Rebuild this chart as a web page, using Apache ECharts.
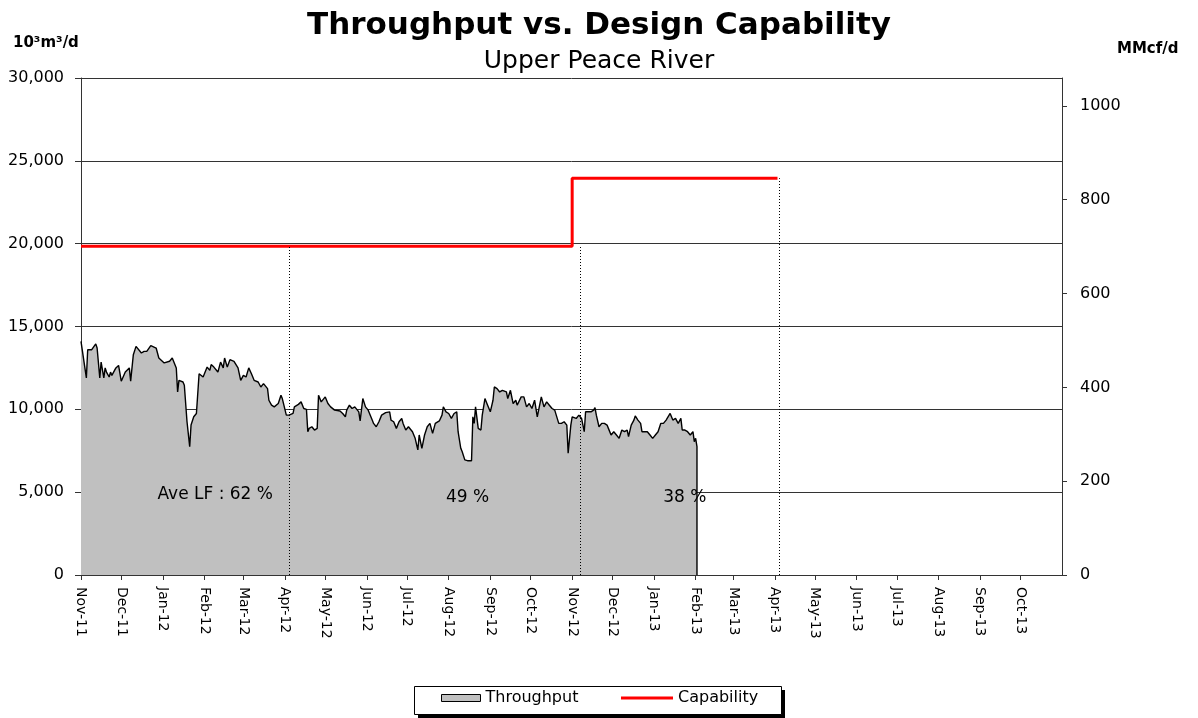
<!DOCTYPE html>
<html>
<head>
<meta charset="utf-8">
<title>Throughput vs. Design Capability</title>
<script src="https://cdn.jsdelivr.net/npm/echarts@6/dist/echarts.min.js"></script>
<style>
  html, body { margin: 0; padding: 0; background: #fff; }
  #chart { width: 1198px; height: 718px; }
</style>
</head>
<body>
<div id="chart"></div>
<script>
// throughput: [days since 1 Nov 2011, 10^3 m3/d]
const throughput = [
  [0, 14100], [4, 11900], [5, 13600], [8, 13600], [11, 13950], [12, 13700], [14, 11900], [15, 12850],
  [17, 11900], [18, 12500], [19, 12250], [21, 11950], [22, 12250], [23, 12050], [26, 12500], [28, 12650],
  [30, 11700], [33, 12250], [36, 12500], [37, 11700], [39, 13300], [41, 13800], [45, 13400], [47, 13500],
  [49, 13500], [52, 13850], [56, 13700], [58, 13100], [62, 12800], [66, 12900], [68, 13100], [71, 12500],
  [72, 11050], [73, 11750], [76, 11650], [77, 11450], [78, 11350], [79, 9250], [81, 7750], [82, 9050],
  [84, 9550], [86, 9750], [88, 12150], [91, 11950], [94, 12550], [96, 12350], [97, 12700], [99, 12550],
  [102, 12250], [104, 12850], [106, 12500], [107, 13100], [109, 12550], [111, 13000], [114, 12900], [117, 12500],
  [119, 11750], [121, 12050], [123, 11950], [125, 12500], [127, 12150], [129, 11750], [132, 11650], [134, 11350],
  [136, 11550], [139, 11250], [140, 10550], [142, 10250], [144, 10150], [147, 10350], [149, 10850], [150, 10650],
  [153, 9650], [155, 9650], [158, 9750], [159, 10150], [162, 10300], [164, 10450], [166, 10050], [168, 10000],
  [169, 8650], [170, 8850], [172, 8950], [174, 8750], [176, 8850], [177, 10850], [178, 10750], [179, 10450],
  [182, 10750], [184, 10350], [186, 10150], [187, 10250], [189, 9950], [190, 9850], [193, 9900], [195, 9750],
  [197, 9550], [198, 9950], [200, 10250], [202, 10050], [204, 10150], [207, 9850], [208, 9300], [210, 10650],
  [212, 10150], [214, 9950], [217, 9350], [218, 9150], [220, 8950], [222, 9250], [224, 9650], [227, 9800],
  [230, 9850], [231, 9350], [233, 9250], [235, 8850], [237, 9250], [239, 9450], [240, 9150], [242, 8750],
  [244, 8950], [247, 8650], [249, 8250], [251, 7550], [252, 8450], [254, 7650], [256, 8450], [258, 8950],
  [260, 9150], [262, 8550], [264, 9150], [265, 9050], [267, 9300], [269, 9650], [270, 10150], [272, 9850],
  [274, 9750], [276, 9450], [278, 9750], [280, 9850], [281, 8650], [283, 7650], [284, 7450], [286, 6950],
  [288, 6900], [291, 6900], [292, 9550], [293, 9150], [294, 10150], [296, 8850], [298, 8750], [299, 9650],
  [301, 10650], [303, 10250], [305, 9850], [307, 10550], [308, 11350], [310, 11250], [312, 11050], [314, 11150],
  [317, 11050], [318, 10650], [320, 11150], [322, 10350], [324, 10550], [325, 10250], [328, 10750], [330, 10750],
  [332, 10150], [334, 10350], [336, 10050], [338, 10550], [340, 9550], [341, 9650], [343, 10750], [345, 10150],
  [347, 10450], [349, 10250], [351, 10050], [353, 9950], [354, 9850], [356, 9150], [358, 9150], [360, 9250],
  [362, 9050], [363, 7350], [365, 9050], [366, 9550], [369, 9450], [371, 9650], [373, 9450], [375, 8650],
  [376, 9850], [377, 9850], [380, 9850], [382, 9950], [383, 10100], [384, 9650], [386, 8950], [388, 9150],
  [390, 9150], [392, 9050], [393, 8850], [395, 8450], [397, 8650], [399, 8450], [401, 8250], [403, 8750],
  [405, 8650], [407, 8750], [408, 8350], [410, 9050], [412, 9350], [413, 9600], [415, 9350], [417, 9150],
  [418, 8650], [420, 8650], [422, 8650], [424, 8450], [426, 8250], [428, 8450], [430, 8650], [432, 9150],
  [434, 9150], [436, 9350], [437, 9350], [439, 9750], [441, 9350], [443, 9450], [445, 9150], [447, 9450],
  [448, 8750], [450, 8750], [452, 8650], [454, 8450], [456, 8650], [457, 8050], [458, 8250], [459, 7750],
  [459, 0]
];

// design capability (step), [days since 1 Nov 2011, 10^3 m3/d]
const capability = [[0, 19850], [366, 19850], [366, 23950], [519, 23950]];

// dotted period markers and the average load factor of each period
const periodDay = [155, 372, 520];
const periodTop = [19850, 19850, 23950];
const loadFactor = ['Ave LF : 62 %', '49 %', '38 %'];

const monthLabels = [
  'Nov-11', 'Dec-11', 'Jan-12', 'Feb-12', 'Mar-12', 'Apr-12', 'May-12', 'Jun-12',
  'Jul-12', 'Aug-12', 'Sep-12', 'Oct-12', 'Nov-12', 'Dec-12', 'Jan-13', 'Feb-13',
  'Mar-13', 'Apr-13', 'May-13', 'Jun-13', 'Jul-13', 'Aug-13', 'Sep-13', 'Oct-13'
];
const leftTicks = [0, 5000, 10000, 15000, 20000, 25000, 30000];
const rightTicks = [0, 200, 400, 600, 800, 1000];

const M3_TO_MMCF = 0.0353147; // 10^3 m3/d -> MMcf/d
const FONT = 'DejaVu Sans';
const DAY = 86400000;
const start = Date.UTC(2011, 10, 1);
const monthDay = monthLabels.map((_, i) => (Date.UTC(2011, 10 + i, 1) - start) / DAY);
const axisEnd = (Date.UTC(2013, 10, 1) - start) / DAY;

const chart = echarts.init(document.getElementById('chart'));

const option = {
  animation: false,
  backgroundColor: '#fff',
  title: [
    {
      text: 'Throughput vs. Design Capability',
      left: 594, top: 5, textAlign: 'center',
      textStyle: { fontFamily: FONT, fontSize: 31, fontWeight: 'bold', color: '#000' }
    },
    {
      text: 'Upper Peace River',
      left: 594, top: 44, textAlign: 'center',
      textStyle: { fontFamily: FONT, fontSize: 25, fontWeight: 'normal', color: '#000' }
    }
  ],
  grid: { left: 81, right: 136, top: 78, bottom: 143, containLabel: false },
  legend: [
    {
      data: [{ name: 'Throughput', icon: 'rect', itemStyle: { color: '#c0c0c0', borderColor: '#000', borderWidth: 1 } }],
      left: 441, top: 690, padding: 0, itemWidth: 39, itemHeight: 7,
      selectedMode: false, z: 20,
      textStyle: { fontFamily: FONT, fontSize: 16, color: '#000' }
    },
    {
      data: [{ name: 'Capability', icon: 'rect', itemStyle: { color: '#ff0000' } }],
      left: 621, top: 690, padding: 0, itemWidth: 52, itemHeight: 3,
      selectedMode: false, z: 20,
      textStyle: { fontFamily: FONT, fontSize: 16, color: '#000' }
    }
  ],
  graphic: [
    { type: 'rect', z: 1, shape: { x: 418, y: 690, width: 367, height: 28 }, style: { fill: '#000' } },
    { type: 'rect', z: 2, shape: { x: 414.5, y: 686.5, width: 367, height: 28 }, style: { fill: '#fff', stroke: '#000', lineWidth: 1 } },
    {
      type: 'text', z: 3, left: 13, top: 36,
      style: { text: '10³m³/d', font: 'bold 15px "DejaVu Sans"', fill: '#000' }
    },
    {
      type: 'text', z: 3, left: 1117, top: 42,
      style: { text: 'MMcf/d', font: 'bold 15px "DejaVu Sans"', fill: '#000' }
    }
  ],
  xAxis: {
    type: 'value',
    min: 0,
    max: axisEnd,
    axisLine: { show: true, lineStyle: { color: '#333', width: 1 } },
    axisTick: { show: true, length: 5, customValues: monthDay, lineStyle: { color: '#333' } },
    axisLabel: {
      customValues: monthDay,
      rotate: -90,
      margin: 12,
      fontFamily: FONT,
      fontSize: 14,
      color: '#000',
      formatter: v => monthLabels[monthDay.indexOf(v)] || ''
    },
    splitLine: { show: false }
  },
  yAxis: [
    {
      type: 'value',
      min: 0,
      max: 30000,
      interval: 5000,
      axisLine: { show: true, lineStyle: { color: '#333', width: 1 } },
      axisTick: { show: true, length: 6, lineStyle: { color: '#333' } },
      axisLabel: {
        margin: 17,
        fontFamily: FONT,
        fontSize: 16,
        color: '#000',
        formatter: v => leftTicks.includes(v) ? v.toLocaleString('en-US') : ''
      },
      splitLine: { show: true, lineStyle: { color: '#333', width: 1 } }
    },
    {
      type: 'value',
      min: 0,
      max: 30000 * M3_TO_MMCF,
      position: 'right',
      axisLine: { show: true, lineStyle: { color: '#333', width: 1 } },
      axisTick: { show: true, length: 5, customValues: rightTicks, lineStyle: { color: '#333' } },
      axisLabel: {
        customValues: rightTicks,
        margin: 18,
        fontFamily: FONT,
        fontSize: 16,
        color: '#000',
        formatter: v => String(v)
      },
      splitLine: { show: false }
    }
  ],
  series: [
    {
      name: 'Throughput',
      type: 'line',
      data: throughput,
      symbol: 'none',
      color: '#000',
      lineStyle: { color: '#000', width: 1.4 },
      areaStyle: { color: '#c0c0c0', opacity: 1 },
      z: 2,
      markPoint: {
        symbol: 'rect',
        symbolSize: 1,
        silent: true,
        itemStyle: { color: 'rgba(0,0,0,0)' },
        label: { show: true, position: 'inside', fontFamily: FONT, fontSize: 17, color: '#000' },
        data: [
          { coord: [100, 4850], label: { formatter: loadFactor[0] } },
          { coord: [288, 4650], label: { formatter: loadFactor[1] } },
          { coord: [450, 4650], label: { formatter: loadFactor[2] } }
        ]
      }
    },
    {
      name: 'Capability',
      type: 'line',
      data: capability,
      symbol: 'none',
      color: '#ff0000',
      lineStyle: { color: '#ff0000', width: 3 },
      z: 3,
      markLine: {
        silent: true,
        symbol: ['none', 'none'],
        label: { show: false },
        lineStyle: { color: '#000', width: 1, type: [1, 2] },
        data: periodDay.map((d, i) => [{ coord: [d, 0] }, { coord: [d, periodTop[i]] }])
      }
    }
  ]
};

chart.setOption(option);
</script>
</body>
</html>
